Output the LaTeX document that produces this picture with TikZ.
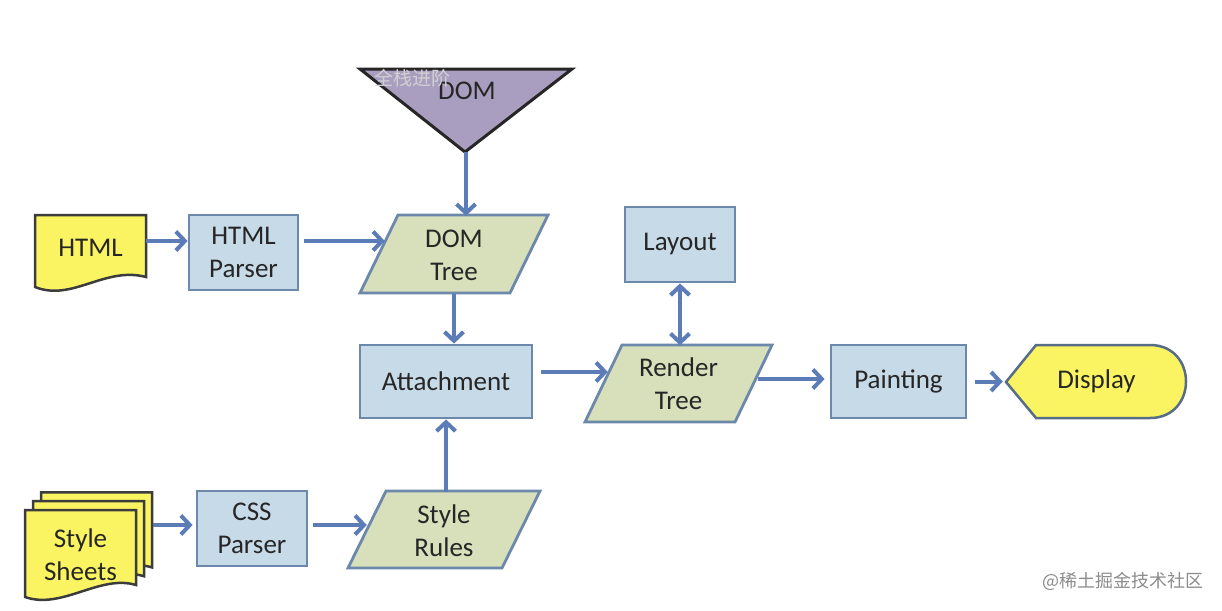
\documentclass[tikz,border=0pt]{standalone}
\usepackage{fontspec}
\setmainfont{Carlito}
\newfontfamily\cjkfont{Noto Sans CJK SC}
\usetikzlibrary{arrows.meta,calc,backgrounds}
\definecolor{boxblue}{RGB}{199,218,232}
\definecolor{boxedge}{RGB}{108,136,170}
\definecolor{paragreen}{RGB}{215,223,187}
\definecolor{docyellow}{RGB}{250,244,98}
\definecolor{docedge}{RGB}{60,60,60}
\definecolor{domviolet}{RGB}{170,158,192}
\definecolor{arrowblue}{RGB}{92,124,184}
\definecolor{txt}{RGB}{38,38,38}
\begin{document}
\begin{tikzpicture}[x=1pt,y=-1pt,
  every node/.style={font=\fontsize{27}{33}\selectfont, text=txt, align=center, inner sep=0pt},
  procbox/.style={draw=boxedge, fill=boxblue, line width=2.8pt},
  slot/.style={draw=none},
  parashape/.style={draw=boxedge, fill=paragreen, line width=2.8pt, line join=miter},
  docshape/.style={draw=docedge, fill=docyellow, line width=2.5pt},
  dispshape/.style={draw=boxedge!80!black, fill=docyellow, line width=2.5pt},
  domshape/.style={draw=black!85, fill=domviolet, line width=3pt, line join=miter},
  arr/.style={draw=arrowblue, line width=4pt, -{Straight Barb[length=9pt,width=19pt]}},
  dblarr/.style={draw=arrowblue, line width=4pt, {Straight Barb[length=9pt,width=19pt]}-{Straight Barb[length=9pt,width=19pt]}}]
\useasboundingbox (0,0) rectangle (1222,610);
\fill[white] (0,0) rectangle (1222,610);

% ---- shapes drawn directly ----
\path[domshape] (360,69) -- (572,69) -- (465,152) -- cycle;
\path[docshape] (35,215) -- (146,215) -- (146,277) .. controls (105,266) and (72,302) .. (35,287) -- cycle;
\foreach \d in {16,8,0} {
  \path[docshape, shift={(\d,-1.1*\d)}] (25,510) -- (136,510) -- (136,585) .. controls (100,574) and (62,610) .. (25,597) -- cycle;
}
\path[parashape] (398,215) -- (548,215) -- (510,293) -- (360,293) -- cycle;
\path[parashape] (622,345) -- (772,345) -- (735,422) -- (585,422) -- cycle;
\path[parashape] (386,491) -- (540,491) -- (502,568) -- (348,568) -- cycle;
\path[dispshape] (1006,382) -- (1036,345) -- (1150,345) .. controls (1198,345) and (1198,418) .. (1150,418) -- (1036,418) -- cycle;

% ---- nodes ----
\node[slot, minimum width=212, minimum height=83] (dom) at (466,110.5) {};
\node (domtext) at (467,91) {DOM};
\node[slot, minimum width=111, minimum height=66] (html) at (90.5,248) {HTML};
\node[procbox, minimum width=109, minimum height=75] (hp) at (243.5,252.5) {HTML\\Parser};
\node[slot, minimum width=188, minimum height=78] (dt) at (454,255) {DOM\\Tree};
\node[procbox, minimum width=172, minimum height=73] (att) at (446,381.5) {Attachment};
\node[procbox, minimum width=110, minimum height=75] (layout) at (680,244.5) {Layout};
\node[slot, minimum width=187, minimum height=77] (rt) at (678.5,384) {Render\\Tree};
\node[procbox, minimum width=135, minimum height=73] (paint) at (898.5,381.5) {Painting};
\node[slot, minimum width=181, minimum height=73] (disp) at (1096.5,381.5) {Display};
\node[slot, minimum width=111, minimum height=80] (ss) at (80.5,555) {Style\\Sheets};
\node[procbox, minimum width=110, minimum height=75] (css) at (252,528.5) {CSS\\Parser};
\node[slot, minimum width=192, minimum height=77] (sr) at (444,530.5) {Style\\Rules};

% ---- connectors ----
\draw[arr] (dom.south) -- (dom.south |- dt.north);
\draw[arr] ([yshift=7pt]html.east) -- ([yshift=11.5pt]hp.west);
\draw[arr] ([xshift=5pt,yshift=11.5pt]hp.east) -- ([xshift=25pt,yshift=14pt]dt.west);
\draw[arr] (dt.south) -- (dt.south |- att.north);
\draw[arr] (att.south |- sr.north) -- (att.south);
\draw[arr] ($(ss.east)+(17,-30)$) -- ([xshift=-3pt,yshift=3.5pt]css.west);
\draw[arr] ([xshift=5pt,yshift=3.5pt]css.east) -- ([xshift=19pt,yshift=5.5pt]sr.west);
\draw[arr] ([xshift=8pt,yshift=9.5pt]att.east) -- ([xshift=23pt,yshift=12pt]rt.west);
\draw[dblarr] (layout.south) -- (layout.south |- rt.north);
\draw[arr] ([xshift=-14pt,yshift=5pt]rt.east) -- ([xshift=-5pt,yshift=2.5pt]paint.west);
\draw[arr] ([xshift=8pt]paint.east) -- ([xshift=-3pt]disp.west);

% ---- watermarks ----
\node[text=black!18, font=\cjkfont\fontsize{19}{19}\selectfont] (wm1) at (412,78) {全栈进阶};
\node[text=black!45, font=\cjkfont\fontsize{18}{18}\selectfont, anchor=east] (wm2) at (1204,581) {@稀土掘金技术社区};
\end{tikzpicture}
\end{document}
